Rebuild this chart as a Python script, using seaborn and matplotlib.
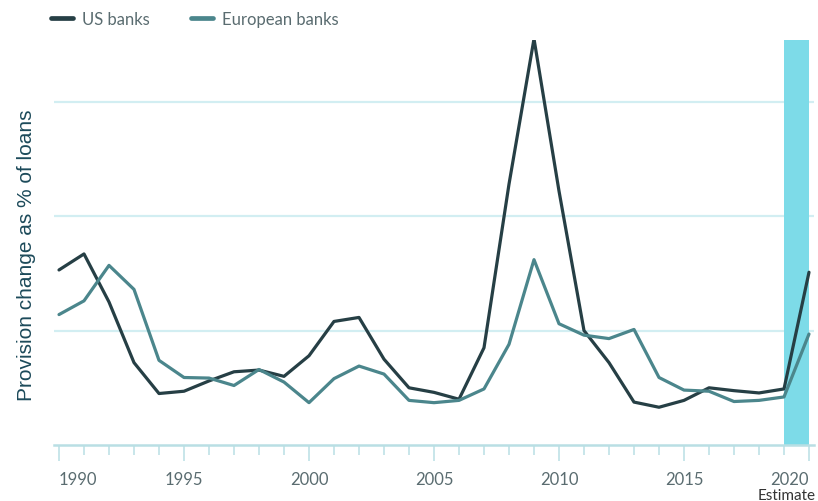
import matplotlib
matplotlib.use("Agg")
import matplotlib.pyplot as plt
from matplotlib.lines import Line2D
import seaborn as sns
import pandas as pd

years = list(range(1990, 2021))
us_banks = [1.53, 1.67, 1.25, 0.72, 0.45, 0.47, 0.56, 0.64, 0.655, 0.60,
            0.78, 1.08, 1.115, 0.75, 0.50, 0.46, 0.40, 0.85, 2.28, 3.55,
            2.22, 1.00, 0.72, 0.375, 0.33, 0.39, 0.50, 0.475, 0.455, 0.49, 1.51]
eu_banks = [1.14, 1.26, 1.57, 1.36, 0.74, 0.59, 0.585, 0.52, 0.66, 0.55,
            0.37, 0.58, 0.69, 0.62, 0.39, 0.37, 0.39, 0.49, 0.88, 1.62,
            1.06, 0.96, 0.93, 1.01, 0.59, 0.48, 0.47, 0.38, 0.39, 0.42, 0.97]
series_names = ["US banks", "European banks"]
tick_years = [1990, 1995, 2000, 2005, 2010, 2015, 2020]
estimate_span = (2019, 2020)

df = pd.DataFrame({
    "year": years * 2,
    "value": us_banks + eu_banks,
    "series": [series_names[0]] * len(years) + [series_names[1]] * len(years),
})

sns.set_theme(style="white")
plt.rcParams["font.family"] = ["Lato", "DejaVu Sans"]

US_C = "#263f45"
EU_C = "#4b868c"
GRID_C = "#d2eef2"
AXIS_C = "#b9dfe4"
SHADE_C = "#7ddbe8"
TXT_C = "#5a6c70"

fig = plt.figure(figsize=(8.18, 5.02), dpi=100)
ax = fig.add_axes([54 / 818, 1 - 446 / 502, 760 / 818, 405 / 502])

ax.axvspan(*estimate_span, color=SHADE_C, zorder=1, lw=0)
for gy in [1, 2, 3]:
    ax.axhline(gy, color=GRID_C, lw=1.6, zorder=0)

sns.lineplot(data=df, x="year", y="value", hue="series",
             palette={series_names[0]: US_C, series_names[1]: EU_C},
             linewidth=2.3, ax=ax, legend=False, zorder=3)

ax.set_xlim(1989.8, 2020.2)
ax.set_ylim(0, 3.54)
ax.set_xlabel("")
ax.set_ylabel("")
ax.set_yticks([])

for s in ["left", "right", "top"]:
    ax.spines[s].set_visible(False)
ax.spines["bottom"].set_color(AXIS_C)
ax.spines["bottom"].set_linewidth(1.8)

ax.set_xticks(tick_years)
ax.set_xticks(years, minor=True)
ax.tick_params(axis="x", which="major", length=11.5, width=1.1, color=AXIS_C,
               labelsize=12, labelcolor=TXT_C, pad=7, direction="out", bottom=True)
ax.tick_params(axis="x", which="minor", length=7.5, width=1.1, color=AXIS_C,
               direction="out", bottom=True)
labels = ax.set_xticklabels([str(y) for y in tick_years])
labels[0].set_horizontalalignment("left")
labels[-1].set_horizontalalignment("right")

fig.text(816 / 818, 1 - 500 / 502, "Estimate", fontsize=11, color="#333333",
         va="baseline", ha="right")

fig.text(27 / 818, 1 - 255 / 502, "Provision change as % of loans",
         rotation=90, ha="center", va="center", fontsize=15,
         family=["Liberation Sans", "DejaVu Sans"], color="#1c4a5a")

handles = [Line2D([], [], color=US_C, lw=3.4), Line2D([], [], color=EU_C, lw=3.4)]
leg = fig.legend(handles, series_names, loc="center left",
                 bbox_to_anchor=(51 / 818, 1 - 20 / 502), ncol=2, frameon=False,
                 fontsize=12, handlelength=1.3, handletextpad=0.55,
                 columnspacing=2.5, borderaxespad=0, borderpad=0)
for t in leg.get_texts():
    t.set_color(TXT_C)

fig.savefig("out.png", dpi=100)
